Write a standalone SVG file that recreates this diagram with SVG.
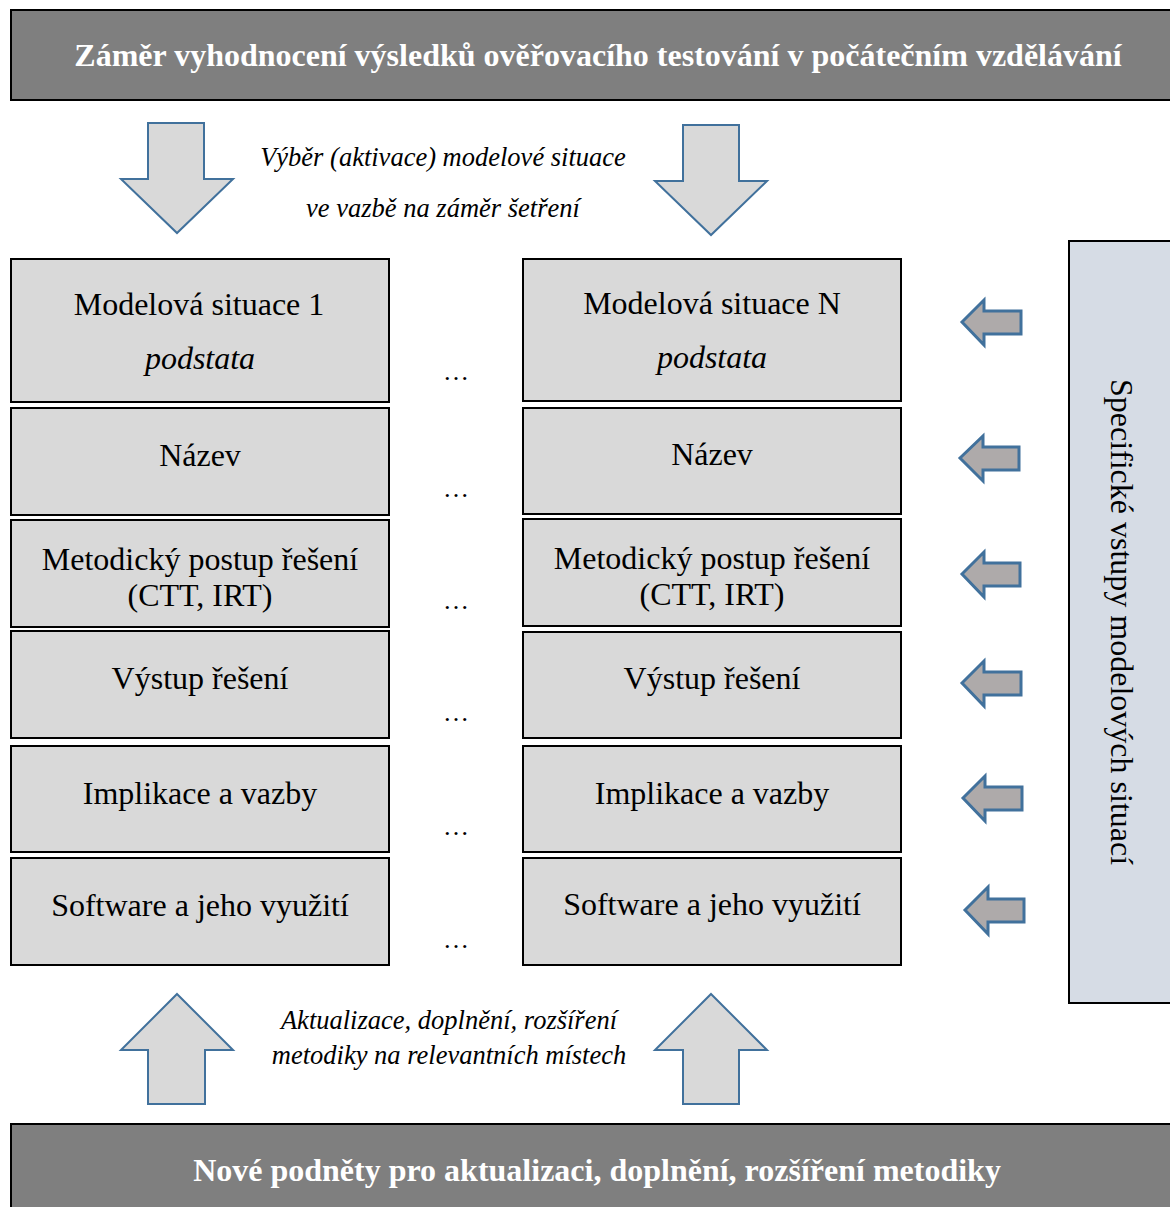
<svg xmlns="http://www.w3.org/2000/svg" width="1170" height="1207" viewBox="0 0 1170 1207">
  <style>
    .banner { fill: #7f7f7f; stroke: #000; stroke-width: 2; }
    .banner-text { font-family: "Liberation Serif", "Times New Roman", serif; font-weight: bold; font-size: 32px; fill: #fff; text-anchor: middle; }
    .box { fill: #d9d9d9; stroke: #000; stroke-width: 2; }
    .box-text { font-family: "Liberation Serif", "Times New Roman", serif; font-size: 32px; fill: #000; text-anchor: middle; }
    .it { font-style: italic; }
    .note { font-family: "Liberation Serif", "Times New Roman", serif; font-style: italic; font-size: 26.5px; fill: #000; text-anchor: middle; }
    .dots { font-family: "Liberation Serif", "Times New Roman", serif; font-size: 26px; fill: #000; text-anchor: middle; }
    .big-arrow { fill: #d9d9d9; stroke: #41719c; stroke-width: 2; stroke-linejoin: miter; }
    .side-arrow { fill: #aeaaaa; stroke: #41719c; stroke-width: 3; stroke-linejoin: miter; }
    .side { fill: #d6dce5; stroke: #000; stroke-width: 2; }
  </style>

  <!-- top banner -->
  <g id="banner-top">
    <rect class="banner" x="11" y="10" width="1170" height="90"/>
    <text class="banner-text" x="598" y="66">Záměr vyhodnocení výsledků ověřovacího testování v počátečním vzdělávání</text>
  </g>

  <!-- bottom banner -->
  <g id="banner-bottom">
    <rect class="banner" x="11" y="1124" width="1170" height="95"/>
    <text class="banner-text" x="597" y="1181">Nové podněty pro aktualizaci, doplnění, rozšíření metodiky</text>
  </g>

  <!-- side panel -->
  <g id="side-panel">
    <rect class="side" x="1069" y="241" width="110" height="762"/>
    <text class="box-text" transform="translate(1121 622) rotate(90)" x="0" y="10">Specifické vstupy modelových situací</text>
  </g>

  <!-- left column -->
  <g id="ms1-podstata">
    <rect class="box" x="11" y="259" width="378" height="143"/>
    <text class="box-text" x="199" y="315">Modelová situace 1</text>
    <text class="box-text it" x="200" y="369">podstata</text>
  </g>
  <g id="ms1-nazev">
    <rect class="box" x="11" y="408" width="378" height="107"/>
    <text class="box-text" x="200" y="466">Název</text>
  </g>
  <g id="ms1-postup">
    <rect class="box" x="11" y="520" width="378" height="107"/>
    <text class="box-text" x="200" y="570">Metodický postup řešení</text>
    <text class="box-text" x="200" y="606">(CTT, IRT)</text>
  </g>
  <g id="ms1-vystup">
    <rect class="box" x="11" y="631" width="378" height="107"/>
    <text class="box-text" x="200" y="689">Výstup řešení</text>
  </g>
  <g id="ms1-implikace">
    <rect class="box" x="11" y="746" width="378" height="106"/>
    <text class="box-text" x="200" y="804">Implikace a vazby</text>
  </g>
  <g id="ms1-software">
    <rect class="box" x="11" y="858" width="378" height="107"/>
    <text class="box-text" x="200" y="916">Software a jeho využití</text>
  </g>

  <!-- right column -->
  <g id="msN-podstata">
    <rect class="box" x="523" y="259" width="378" height="142"/>
    <text class="box-text" x="712" y="314">Modelová situace N</text>
    <text class="box-text it" x="712" y="368">podstata</text>
  </g>
  <g id="msN-nazev">
    <rect class="box" x="523" y="408" width="378" height="106"/>
    <text class="box-text" x="712" y="465">Název</text>
  </g>
  <g id="msN-postup">
    <rect class="box" x="523" y="519" width="378" height="107"/>
    <text class="box-text" x="712" y="569">Metodický postup řešení</text>
    <text class="box-text" x="712" y="605">(CTT, IRT)</text>
  </g>
  <g id="msN-vystup">
    <rect class="box" x="523" y="632" width="378" height="106"/>
    <text class="box-text" x="712" y="689">Výstup řešení</text>
  </g>
  <g id="msN-implikace">
    <rect class="box" x="523" y="746" width="378" height="106"/>
    <text class="box-text" x="712" y="804">Implikace a vazby</text>
  </g>
  <g id="msN-software">
    <rect class="box" x="523" y="858" width="378" height="107"/>
    <text class="box-text" x="712" y="915">Software a jeho využití</text>
  </g>

  <!-- ellipses between the columns -->
  <g id="ellipses">
    <text class="dots" x="456" y="380">…</text>
    <text class="dots" x="456" y="497">…</text>
    <text class="dots" x="456" y="609">…</text>
    <text class="dots" x="456" y="721">…</text>
    <text class="dots" x="456" y="835">…</text>
    <text class="dots" x="456" y="948">…</text>
  </g>

  <!-- captions -->
  <g id="caption-top">
    <text class="note" x="443" y="166">Výběr (aktivace) modelové situace</text>
    <text class="note" x="443" y="217">ve vazbě na záměr šetření</text>
  </g>
  <g id="caption-bottom">
    <text class="note" x="449" y="1029">Aktualizace, doplnění, rozšíření</text>
    <text class="note" x="449" y="1064">metodiky na relevantních místech</text>
  </g>

  <!-- connectors: block arrows -->
  <g id="connectors">
    <polygon class="big-arrow" points="148,123 204,123 204,179 233,179 177,233 121,179 148,179"/>
    <polygon class="big-arrow" points="683,125 739,125 739,181 767,181 711,235 655,181 683,181"/>
    <polygon class="big-arrow" points="177,994 233,1050 205,1050 205,1104 148,1104 148,1050 121,1050"/>
    <polygon class="big-arrow" points="711,994 767,1050 739,1050 739,1104 683,1104 683,1050 655,1050"/>

    <polygon class="side-arrow" points="962,322 984,300 984,311 1021,311 1021,334 984,334 984,345"/>
    <polygon class="side-arrow" points="960,458 983,436 983,447 1019,447 1019,470 983,470 983,481"/>
    <polygon class="side-arrow" points="962,574 984,552 984,563 1020,563 1020,586 984,586 984,597"/>
    <polygon class="side-arrow" points="962,683 984,661 984,672 1021,672 1021,695 984,695 984,706"/>
    <polygon class="side-arrow" points="963,798 985,776 985,787 1022,787 1022,810 985,810 985,821"/>
    <polygon class="side-arrow" points="965,910 988,887 988,899 1024,899 1024,922 988,922 988,934"/>
  </g>
</svg>
